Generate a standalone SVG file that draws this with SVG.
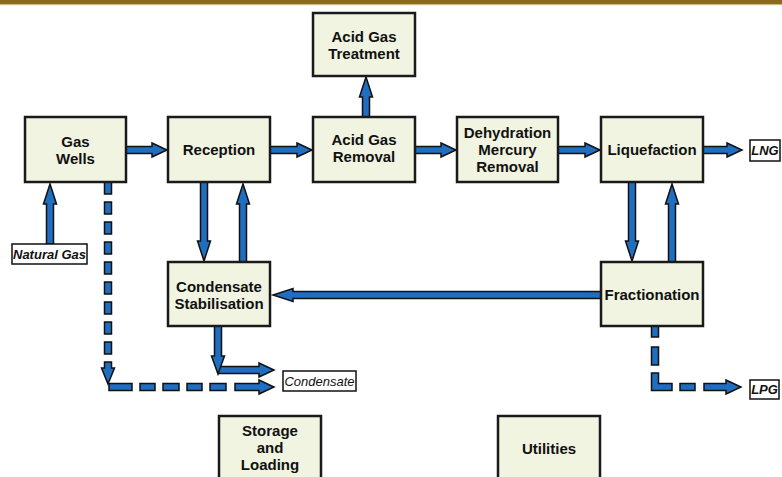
<svg xmlns="http://www.w3.org/2000/svg" width="782" height="477" viewBox="0 0 782 477">
<style>
.box{fill:#F0F4E1;stroke:#1a1a1a;stroke-width:2.5}
.t{font-family:"Liberation Sans",Arial,sans-serif;font-weight:bold;font-size:15px;fill:#111;text-anchor:middle}
.lbl{fill:#fff;stroke:#111;stroke-width:1.5}
.lt{font-family:"Liberation Sans",Arial,sans-serif;font-style:italic;font-size:13px;fill:#111;text-anchor:middle}
.arr{fill:#1F6EC0;stroke:#111;stroke-width:1.5;stroke-linejoin:miter}
</style>
<rect x="0" y="0" width="782" height="4" fill="#8C6A1E"/>
<rect x="0" y="4" width="782" height="1.2" fill="#CDBB83"/>

<g id="connectors">
<path class="arr" d="M126 146.5H152V143L167 150L152 157V153.5H126Z"/>
<path class="arr" d="M270 146.5H297V143L312 150L297 157V153.5H270Z"/>
<path class="arr" d="M415 146.5H441V143L456 150L441 157V153.5H415Z"/>
<path class="arr" d="M558 146.5H585V143L600 150L585 157V153.5H558Z"/>
<path class="arr" d="M703 146.5H727V143L742 150L727 157V153.5H703Z"/>
<path class="arr" d="M362.5 117V97H359.5L366 77L372.5 97H369.5V117Z"/>
<path class="arr" d="M46.5 244V204H43.5L50 184L56.5 204H53.5V244Z"/>
<path class="arr" d="M239.5 262V204H236.5L243 184L249.5 204H246.5V262Z"/>
<path class="arr" d="M668.5 262V204H665.5L672 184L678.5 204H675.5V262Z"/>
<path class="arr" d="M200.5 182V241H197.5L204 261L210.5 241H207.5V182Z"/>
<path class="arr" d="M628.5 182V241H625.5L632 261L638.5 241H635.5V182Z"/>
<path class="arr" d="M601 291.5H293V288.5L273 295L293 301.5V298.5H601Z"/>
<path class="arr" d="M218 366.5H259V363L274 370L259 377V373.5H218Z"/>
<path class="arr" d="M214.5 326V356H211.5L218 374L224.5 356H221.5V326Z"/>
<!-- gas wells dashed -->
<rect class="arr" x="104.5" y="182" width="7" height="12"/>
<rect class="arr" x="104.5" y="202" width="7" height="12"/>
<rect class="arr" x="104.5" y="222" width="7" height="12"/>
<rect class="arr" x="104.5" y="242" width="7" height="12"/>
<rect class="arr" x="104.5" y="262" width="7" height="12"/>
<rect class="arr" x="104.5" y="282" width="7" height="12"/>
<rect class="arr" x="104.5" y="302" width="7" height="12"/>
<rect class="arr" x="104.5" y="322" width="7" height="12"/>
<rect class="arr" x="104.5" y="342" width="7" height="12"/>
<rect class="arr" x="109" y="383.5" width="23" height="7"/>
<rect class="arr" x="140" y="383.5" width="15" height="7"/>
<rect class="arr" x="163" y="383.5" width="16" height="7"/>
<rect class="arr" x="187" y="383.5" width="15" height="7"/>
<rect class="arr" x="210" y="383.5" width="16" height="7"/>
<path class="arr" d="M235 383.5H259V380L274 387L259 394V390.5H235Z"/>
<path class="arr" d="M104.5 362V368H101.5L108 384L114.5 368H111.5V362Z"/>
<!-- LPG dashed -->
<rect class="arr" x="651.5" y="326" width="7" height="11"/>
<rect class="arr" x="651.5" y="347" width="7" height="18"/>
<path class="arr" d="M651.5 373V390.5H672V383.5H658.5V373Z"/>
<rect class="arr" x="680" y="383.5" width="15" height="7"/>
<path class="arr" d="M704 383.5H726V380L741 387L726 394V390.5H704Z"/>
</g>

<g id="gas-wells"><rect class="box" x="25" y="117" width="101" height="65"/><text class="t" x="75.5" y="147">Gas</text><text class="t" x="75.5" y="164">Wells</text></g>
<g id="reception"><rect class="box" x="168" y="117" width="102" height="65"/><text class="t" x="219" y="155">Reception</text></g>
<g id="acid-gas-removal"><rect class="box" x="313" y="117" width="102" height="65"/><text class="t" x="364" y="145">Acid Gas</text><text class="t" x="364" y="162">Removal</text></g>
<g id="acid-gas-treatment"><rect class="box" x="313" y="13" width="102" height="63"/><text class="t" x="364" y="42">Acid Gas</text><text class="t" x="364" y="59">Treatment</text></g>
<g id="dehydration"><rect class="box" x="457" y="117" width="101" height="65"/><text class="t" x="507.5" y="138">Dehydration</text><text class="t" x="507.5" y="155">Mercury</text><text class="t" x="507.5" y="172">Removal</text></g>
<g id="liquefaction"><rect class="box" x="601" y="117" width="102" height="65"/><text class="t" x="652" y="155">Liquefaction</text></g>
<g id="condensate-stabilisation"><rect class="box" x="168" y="262" width="102" height="64"/><text class="t" x="219" y="292">Condensate</text><text class="t" x="219" y="309">Stabilisation</text></g>
<g id="fractionation"><rect class="box" x="601" y="262" width="102" height="64"/><text class="t" x="652" y="300">Fractionation</text></g>
<g id="storage-loading"><rect class="box" x="219" y="416" width="102" height="70"/><text class="t" x="270" y="436">Storage</text><text class="t" x="270" y="453">and</text><text class="t" x="270" y="470">Loading</text></g>
<g id="utilities"><rect class="box" x="498" y="416" width="102" height="70"/><text class="t" x="549" y="454">Utilities</text></g>

<g id="natural-gas"><rect class="lbl" x="12" y="244" width="75" height="20"/><text class="lt" x="49.5" y="258.5" font-weight="bold">Natural Gas</text></g>
<g id="condensate"><rect class="lbl" x="283" y="371" width="73" height="20"/><text class="lt" x="319.5" y="385.5">Condensate</text></g>
<g id="lng"><rect class="lbl" x="750" y="140" width="30" height="21"/><text class="lt" x="765" y="155" font-weight="bold" font-size="12">LNG</text></g>
<g id="lpg"><rect class="lbl" x="750" y="380" width="29" height="19"/><text class="lt" x="764.5" y="394" font-weight="bold" font-size="12">LPG</text></g>
</svg>
